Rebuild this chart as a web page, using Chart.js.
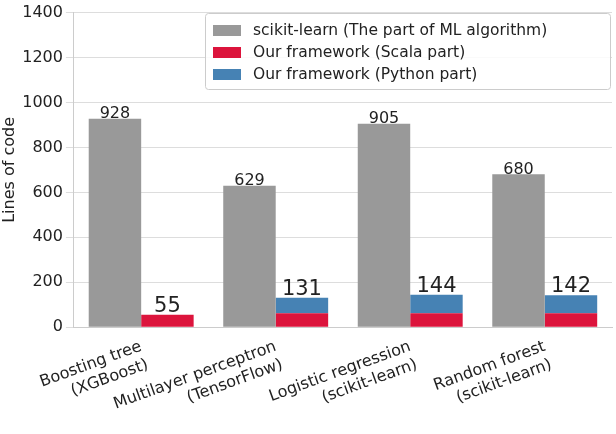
<!DOCTYPE html>
<html><head><meta charset="utf-8">
<script src="https://cdn.jsdelivr.net/npm/chart.js@4"></script>
<style>body{margin:0;background:#fff}#wrap{width:616px;height:434px}</style>
</head><body><div id="wrap"><canvas id="c"></canvas></div>
<script>
const categories = [['Boosting tree', '(XGBoost)'], ['Multilayer perceptron', '(TensorFlow)'], ['Logistic regression', '(scikit-learn)'], ['Random forest', '(scikit-learn)']];
const sklearnLines = [928, 629, 905, 680];
const scalaLines = [55, 62, 62, 62];
const pythonLines = [0, 69, 82, 80];
const frameworkTotals = [55, 131, 144, 142];
const seriesNames = ['scikit-learn (The part of ML algorithm)', 'Our framework (Scala part)', 'Our framework (Python part)'];
const colors = ['#999999', '#dc143c', '#4682b4'];

const font = 'DejaVu Sans';
Chart.defaults.font.family = font;
Chart.defaults.color = '#222';

const labelPlugin = {
  id: 'labels',
  afterDatasetsDraw(chart) {
    const ctx = chart.ctx;
    ctx.save();
    ctx.fillStyle = '#222';
    ctx.textAlign = 'center';
    ctx.textBaseline = 'bottom';
    const m0 = chart.getDatasetMeta(0), m1 = chart.getDatasetMeta(1);
    const y = chart.scales.y;
    sklearnLines.forEach((v, i) => {
      ctx.font = '16px ' + font;
      ctx.fillText(v, m0.data[i].x, y.getPixelForValue(v) + 3);
      ctx.font = '21px ' + font;
      ctx.fillText(frameworkTotals[i], m1.data[i].x, y.getPixelForValue(frameworkTotals[i]) + 2);
    });
    const x0 = 205, y0 = 13, w = 405, h = 76;
    ctx.fillStyle = 'rgba(255,255,255,0.85)';
    ctx.strokeStyle = '#ccc';
    ctx.lineWidth = 1;
    ctx.beginPath(); ctx.roundRect(x0 + 0.5, y0 + 0.5, w, h, 3); ctx.fill(); ctx.stroke();
    ctx.font = '15.5px ' + font;
    ctx.textAlign = 'left';
    ctx.textBaseline = 'middle';
    seriesNames.forEach((n, i) => {
      const yy = y0 + 18 + i * 22;
      ctx.fillStyle = colors[i];
      ctx.fillRect(x0 + 8, yy - 6, 28, 11);
      ctx.fillStyle = '#222';
      ctx.fillText(n, x0 + 48, yy);
    });
    ctx.restore();
  }
};

new Chart(document.getElementById('c'), {
  type: 'bar',
  data: {
    labels: categories,
    datasets: [
      { label: seriesNames[0], data: sklearnLines, backgroundColor: colors[0], stack: 'a' },
      { label: seriesNames[1], data: scalaLines, backgroundColor: colors[1], stack: 'b' },
      { label: seriesNames[2], data: pythonLines, backgroundColor: colors[2], stack: 'b' }
    ]
  },
  options: {
    responsive: true, maintainAspectRatio: false, animation: false,
    layout: { padding: { top: 0, right: 4, left: 0, bottom: 0 } },
    datasets: { bar: { categoryPercentage: 0.78, barPercentage: 1.0, borderWidth: 0 } },
    plugins: { legend: { display: false }, tooltip: { enabled: false } },
    scales: {
      x: {
        stacked: true,
        grid: { display: false },
        border: { color: '#ccc' },
        ticks: { font: { size: 16 }, minRotation: 20, maxRotation: 20, color: '#222', padding: 2 }
      },
      y: {
        stacked: true, min: 0, max: 1400,
        ticks: { stepSize: 200, font: { size: 16 }, color: '#222', callback: v => String(v) },
        grid: { color: '#ddd' },
        border: { color: '#ccc' },
        title: { display: true, text: 'Lines of code', font: { size: 16 }, color: '#222', padding: 0 }
      }
    }
  },
  plugins: [labelPlugin]
});
</script></body></html>
